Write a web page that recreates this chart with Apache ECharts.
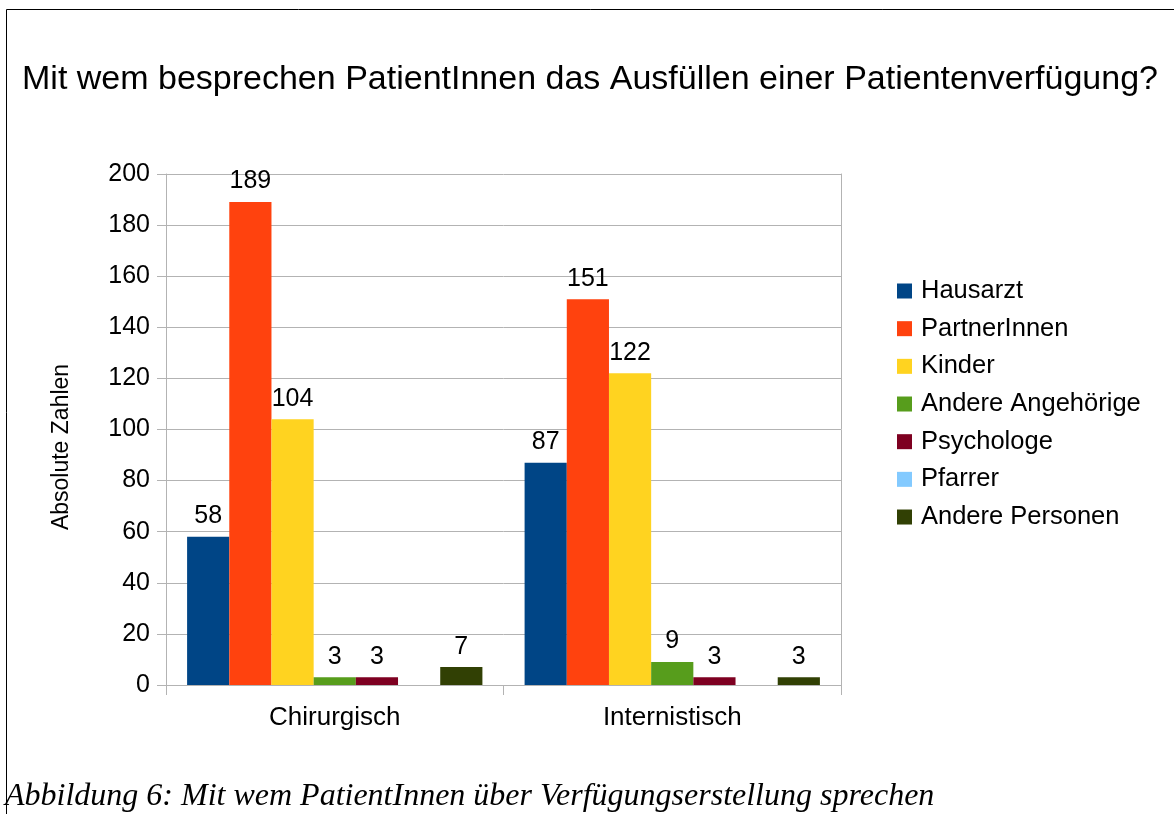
<!DOCTYPE html>
<html><head><meta charset="utf-8">
<script src="https://cdn.jsdelivr.net/npm/echarts@6/dist/echarts.min.js"></script>
<style>html,body{margin:0;padding:0;background:#fff}#c{width:1174px;height:814px}</style>
</head><body><div id="c"></div>
<script>
const categories = ['Chirurgisch', 'Internistisch'];
const seriesNames = ['Hausarzt', 'PartnerInnen', 'Kinder', 'Andere Angehörige', 'Psychologe', 'Pfarrer', 'Andere Personen'];
const hausarzt = [58, 87];
const partnerInnen = [189, 151];
const kinder = [104, 122];
const andereAngehoerige = [3, 9];
const psychologe = [3, 3];
const pfarrer = [0, 0];
const anderePersonen = [7, 3];
const yTicks = [0, 20, 40, 60, 80, 100, 120, 140, 160, 180, 200];
const colors = ['#004586', '#ff420e', '#ffd320', '#579d1c', '#7e0021', '#83caff', '#314004'];
const values = [hausarzt, partnerInnen, kinder, andereAngehoerige, psychologe, pfarrer, anderePersonen];

const font = 'Liberation Sans, Arial, sans-serif';
const chart = echarts.init(document.getElementById('c'), null, {renderer: 'canvas'});
chart.setOption({
  animation: false,
  backgroundColor: '#fff',
  color: colors,
  title: {
    text: 'Mit wem besprechen PatientInnen das Ausfüllen einer Patientenverfügung?',
    left: 22, top: 63, padding: 0,
    textStyle: {fontFamily: font, fontSize: 34, fontWeight: 'normal', color: '#000'}
  },
  legend: {
    orient: 'vertical', left: 897, top: 278, padding: 0,
    itemWidth: 15, itemHeight: 15, itemGap: 11.67, icon: 'rect',
    textStyle: {fontFamily: font, fontSize: 25.5, lineHeight: 26, color: '#000', padding: [0,0,0,4]},
    data: seriesNames
  },
  grid: {left: 166, right: 333, top: 174, bottom: 129, containLabel: false},
  xAxis: {
    type: 'category', data: categories,
    axisLine: {lineStyle: {color: '#b3b3b3'}},
    axisTick: {show: true, length: 10, lineStyle: {color: '#b3b3b3'}},
    axisLabel: {fontFamily: font, fontSize: 26, color: '#000', margin: 20}
  },
  yAxis: [{
    type: 'value', min: yTicks[0], max: yTicks[yTicks.length-1], interval: 20,
    axisLine: {show: true, lineStyle: {color: '#b3b3b3'}},
    axisTick: {show: true, length: 9, lineStyle: {color: '#b3b3b3'}},
    splitLine: {lineStyle: {color: '#b3b3b3'}},
    axisLabel: {fontFamily: font, fontSize: 25, color: '#000', margin: 16}
  }, {
    type: 'value', position: 'right', min: 0, max: 200, interval: 20,
    axisLine: {show: true, lineStyle: {color: '#b3b3b3'}},
    axisTick: {show: false}, axisLabel: {show: false}, splitLine: {show: false}
  }],
  series: seriesNames.map((n, i) => ({
    name: n, type: 'bar', data: values[i],
    barGap: '0%', barCategoryGap: '12.5%',
    label: {
      show: true, position: 'top', distance: 8,
      fontFamily: font, fontSize: 25, color: '#000',
      formatter: p => p.value === 0 ? '' : String(p.value)
    }
  })),
  graphic: [
    {type: 'rect', shape: {x: 6.5, y: 9.5, width: 1300, height: 1000}, style: {fill: 'none', stroke: '#000', lineWidth: 1}, silent: true},
    {type: 'text', x: 62, y: 447, rotation: Math.PI / 2, style: {text: 'Absolute Zahlen', font: '23px "Liberation Sans", Arial, sans-serif', fill: '#000', align: 'center', verticalAlign: 'middle'}},
    {type: 'text', left: 5, top: 781, style: {text: 'Abbildung 6: Mit wem PatientInnen über Verfügungserstellung sprechen', font: 'italic 32px "Liberation Serif", "Times New Roman", serif', fill: '#000'}}
  ]
});
</script></body></html>
